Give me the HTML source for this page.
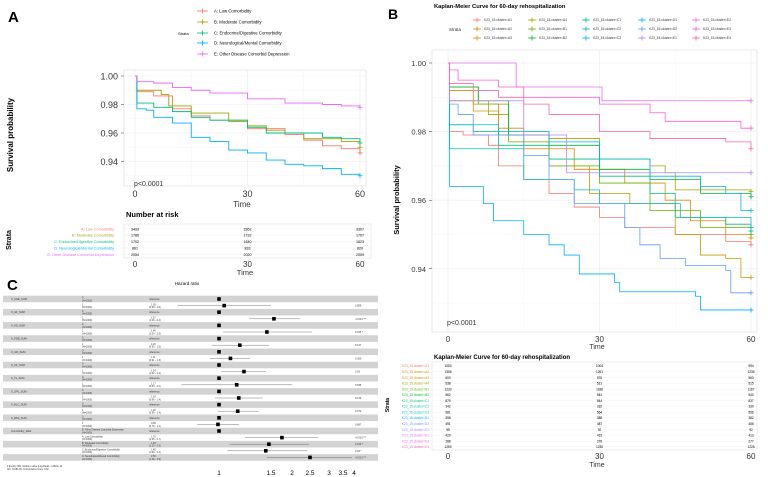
<!DOCTYPE html>
<html><head><meta charset="utf-8"><style>
body{margin:0;background:#fff;font-family:"Liberation Sans",sans-serif}
svg{display:block}
text{font-family:"Liberation Sans",sans-serif}
</style></head><body>
<svg id="fig" width="768" height="477" viewBox="0 0 768 477" xmlns="http://www.w3.org/2000/svg">
<rect width="768" height="477" fill="#fff"/>
<g id="pA"></g>
<g id="pB"></g>
<g id="pC"></g>
</svg>
<script>
// ===== Panel A data =====
const aNames=["A: Low Comorbidity","B: Moderate Comorbidity","C: Endocrine/Digestive Comorbidity","D: Neurological/Mental Comorbidity","E: Other Disease Comorbid Depression"];
const aColors=["#F8766D","#A3A500","#00BF7D","#00B0F6","#E76BF3"];
const aTimes=[
[0,0.5,5,10,15,20,30,40,45,50,55,60],
[0,0.5,7,9,15,25,30,35,40,45,55,60],
[0,0.5,5,10,15,20,30,35,45,50,55,60],
[0,0.5,3,5,10,15,20,25,30,35,40,45,50,55,60],
[0,0.5,5,10,15,20,30,40,50,55,60]];
const aSurv=[
[1,0.989,0.986,0.977,0.972,0.969,0.963,0.959,0.955,0.951,0.949,0.946],
[1,0.990,0.987,0.979,0.974,0.968,0.965,0.962,0.960,0.956,0.954,0.950],
[1,0.981,0.978,0.975,0.971,0.969,0.964,0.960,0.960,0.957,0.956,0.953],
[1,0.977,0.976,0.971,0.967,0.957,0.954,0.948,0.946,0.941,0.938,0.937,0.935,0.931,0.930],
[1,0.996,0.995,0.992,0.990,0.988,0.984,0.981,0.980,0.979,0.978]];
const aYTicks=[1.00,0.98,0.96,0.94];
const aXTicks=[0,30,60];
const aRisk=[[3493,3362,3307],[1786,1732,1707],[1702,1640,1623],[861,833,820],[2054,2020,2009]];

// ===== Panel B data =====
const bNames=["K23_15.cluster=A1","K23_15.cluster=A2","K23_15.cluster=A3","K23_15.cluster=A4","K23_15.cluster=B1","K23_15.cluster=B2","K23_15.cluster=C1","K23_15.cluster=C2","K23_15.cluster=C3","K23_15.cluster=D1","K23_15.cluster=D2","K23_15.cluster=E1","K23_15.cluster=E2","K23_15.cluster=E3","K23_15.cluster=E4"];
const bColors=["#F8766D","#E58700","#C99800","#A3A500","#6BB100","#00BA38","#00BF7D","#00C0AF","#00BCD8","#00B0F6","#619CFF","#B983FF","#E76BF3","#FD61D1","#FF67A4"];
const bTimes=[
[0,0.3,3,8,10,15,20,25,30,35,45,55,60],
[0,0.3,5,10,15,25,35,43,48,55,60],
[0,0.3,5,10,20,28,36,45,50,55,58,60],
[0,0.3,8,12,20,30,40,43,45,60],
[0,0.3,6,12,20,30,40,50,60],
[0,0.3,6,12,20,30,40,50,60],
[0,0.3,5,10,20,30,40,45,55,60],
[0,0.3,10,15,25,30,45,46,60],
[0,0.3,10,20,30,40,50,55,58,60],
[0,0.3,7,9,15,20,23,26,33,34,49,50,60],
[0,0.3,2,5,15,20,25,35,38,42,47,55,56,60],
[0,0.3,15,23,23.5,60],
[0,13,13.5,30,30.5,60],
[0,0.3,2,10,15,30,40,43,58,60],
[0,0.3,5,10,15,20,30,40,55,60]];
const bSurv=[
[1,0.980,0.979,0.976,0.970,0.966,0.962,0.958,0.955,0.952,0.950,0.948,0.947],
[1,0.992,0.988,0.981,0.975,0.969,0.965,0.960,0.954,0.950,0.949],
[1,0.989,0.986,0.979,0.970,0.962,0.959,0.950,0.944,0.943,0.9375,0.9375],
[1,0.989,0.985,0.980,0.978,0.972,0.970,0.968,0.963,0.9625],
[1,0.993,0.988,0.977,0.970,0.965,0.957,0.952,0.950],
[1,0.993,0.989,0.979,0.976,0.969,0.966,0.962,0.961],
[1,0.982,0.980,0.976,0.972,0.967,0.962,0.955,0.953,0.952],
[1,0.975,0.975,0.966,0.963,0.959,0.959,0.955,0.951],
[1,0.982,0.980,0.977,0.972,0.967,0.964,0.962,0.957,0.957],
[1,0.964,0.959,0.954,0.950,0.947,0.944,0.9385,0.936,0.9333,0.932,0.928,0.928],
[1,0.988,0.985,0.979,0.973,0.966,0.959,0.952,0.947,0.943,0.941,0.9395,0.933,0.933],
[1,0.989,0.979,0.979,0.968,0.968],
[1,1.0,0.993,0.993,0.989,0.989],
[1,0.998,0.995,0.993,0.990,0.988,0.9855,0.983,0.981,0.981],
[1,0.994,0.992,0.990,0.988,0.985,0.980,0.978,0.977,0.975]];
const bYTicks=[1.00,0.98,0.96,0.94];
const bXTicks=[0,30,60];
const bRisk=[[1053,1004,994],[1306,1261,1235],[600,576,563],[538,521,515],[1233,1188,1167],[562,544,540],[879,844,837],[342,332,330],[581,564,556],[398,388,382],[491,487,458],[95,92,92],[429,415,413],[288,278,277],[1259,1235,1228]];

// ===== Panel C data =====
const cVars=["X_AGE_SUM","X_HF_SUM","X_AS_SUM","X_PNE_SUM","X_AKI_SUM","X_CF_SUM","X_TL_SUM","X_GPL_SUM","X_HLC_SUM","X_RSF_SUM"];
const cHR=[1.05,1.57,1.46,1.20,1.11,1.24,1.17,1.19,1.18,0.99];
const cLo=[0.60,1.29,1.04,0.93,0.91,1.02,0.64,0.96,0.99,0.79];
const cHi=[1.50,2.22,2.55,1.48,1.30,1.45,2.00,1.42,1.38,1.19];
const cP=["0.855","<0.001 ***","0.035 *","0.137","0.300","0.03","0.535","0.136","0.072","0.897"];
const comNames=["A: Low Comorbidity","B: Moderate Comorbidity","C: Endocrine/Digestive Comorbidity","D: Neurological/Mental Comorbidity"];
const comHR=[1.76,1.48,1.45,2.50];
const comLo=[1.25,1.10,1.08,1.46];
const comHi=[2.71,2.47,2.42,3.91];
const comP=["<0.001 ***","0.010 *","0.02 *","<0.001 ***"];
const cTicks=[1,1.5,2,2.5,3,3.5,4];

const NS="http://www.w3.org/2000/svg";
function mk(tag,attrs,parent){const e=document.createElementNS(NS,tag);for(const k in attrs)e.setAttribute(k,attrs[k]);if(parent)parent.appendChild(e);return e;}
function txt(s,attrs,parent){const e=mk("text",attrs,parent);e.textContent=s;return e;}
function stepPath(ts,ss,sx,sy){let d="M"+sx(ts[0])+","+sy(ss[0]);for(let i=1;i<ts.length;i++){d+="H"+sx(ts[i])+"V"+sy(ss[i]);}return d;}
function cross(g,x,y,c){mk("path",{d:`M${x-2.5},${y}H${x+2.5}M${x},${y-2.5}V${y+2.5}`,stroke:c,"stroke-width":0.8},g);}

// ===== Panel A =====
(function(){
const g=document.getElementById("pA");
let e=txt("A",{x:8,y:22,"font-size":15,"font-weight":"bold"},g);

e=txt("Strata",{x:178,y:35,"font-size":4});
g.appendChild(e);
const ly=[11,22,33,43,54];
aNames.forEach((n,i)=>{
 const lg=mk("g",{},g);
 
 
 mk("line",{x1:197,x2:208,y1:ly[i],y2:ly[i],stroke:aColors[i],"stroke-width":0.8},lg);
 cross(lg,202.5,ly[i],aColors[i]);
 txt(n,{x:214,y:ly[i]+1.5,"font-size":4.3},lg);
});
const sx=t=>135+t*(225/60), sy=s=>76+(1-s)/0.02*28.5;
const panel=mk("rect",{x:124,y:70,width:242,height:116,fill:"#fff",stroke:"#dadada","stroke-width":0.6},g);

[0.99,0.97,0.95,0.93].forEach(v=>mk("line",{x1:124,x2:366,y1:sy(v),y2:sy(v),stroke:"#f3f3f3","stroke-width":0.4},g));
[15,45].forEach(v=>mk("line",{x1:sx(v),x2:sx(v),y1:70,y2:186,stroke:"#f3f3f3","stroke-width":0.4},g));
aYTicks.forEach(v=>{mk("line",{x1:124,x2:366,y1:sy(v),y2:sy(v),stroke:"#ebebeb","stroke-width":0.6},g);
 const t=txt(v.toFixed(2),{x:118,y:sy(v)+3.5,"font-size":9,"text-anchor":"end",fill:"#333"},g);
 
 mk("line",{x1:121,x2:124,y1:sy(v),y2:sy(v),stroke:"#333","stroke-width":0.5},g);});
aXTicks.forEach(v=>{mk("line",{x1:sx(v),x2:sx(v),y1:70,y2:186,stroke:"#ebebeb","stroke-width":0.6},g);
 const t=txt(String(v),{x:sx(v),y:197,"font-size":9,"text-anchor":"middle",fill:"#333"},g);
 });
aNames.forEach((n,i)=>{const p=mk("path",{d:stepPath(aTimes[i],aSurv[i],sx,sy),fill:"none",stroke:aColors[i],"stroke-width":0.9},g);
 
 const L=aTimes[i].length-1;cross(g,sx(aTimes[i][L]),sy(aSurv[i][L]),aColors[i]);});
e=txt("p<0.0001",{x:134,y:186,"font-size":7,fill:"#333"},g);
e=txt("Time",{x:242,y:207,"font-size":8,"text-anchor":"middle",fill:"#333"},g);
e=txt("Survival probability",{x:0,y:0,"font-size":8,"font-weight":"bold","text-anchor":"middle",transform:"translate(13,135) rotate(-90)"},g);
e=txt("Number at risk",{x:126,y:217,"font-size":7.5,"font-weight":"bold"},g);
mk("rect",{x:124,y:224,width:247,height:34,fill:"#fff",stroke:"#dadada","stroke-width":0.5},g);
[135,247.5,360].forEach(x=>mk("line",{x1:x,x2:x,y1:224,y2:258,stroke:"#ebebeb","stroke-width":0.5},g));
const ry=[229,235,241.5,248,254.5];
aRisk.forEach((r,i)=>{
 mk("line",{x1:124,x2:371,y1:ry[i],y2:ry[i],stroke:"#ebebeb","stroke-width":0.4},g);
 const l=txt(aNames[i],{x:114,y:ry[i]+1.3,"font-size":3.8,"text-anchor":"end",fill:aColors[i]},g);
 
 r.forEach((v,j)=>{const t=txt(String(v),{x:sx(aXTicks[j]),y:ry[i]+1.3,"font-size":3.6,"text-anchor":"middle"},g);
 });
});
aXTicks.forEach(v=>txt(String(v),{x:sx(v),y:267,"font-size":8,"text-anchor":"middle",fill:"#333"},g));
txt("Time",{x:245,y:275,"font-size":7.5,"text-anchor":"middle",fill:"#333"},g);
e=txt("Strata",{x:0,y:0,"font-size":7,"font-weight":"bold","text-anchor":"middle",transform:"translate(11,240) rotate(-90)"},g);
})();

// ===== Panel B =====
(function(){
const g=document.getElementById("pB");
let e=txt("B",{x:388,y:19,"font-size":14,"font-weight":"bold"},g);
e=txt("Kaplan-Meier Curve for 60-day rehospitalization",{x:434,y:8,"font-size":5.8,"font-weight":"bold"},g);
txt("Strata",{x:449,y:31,"font-size":4.5,fill:"#333"},g);
const colX=[477,532,586,642,696], rowY=[20,29,38];
bNames.forEach((n,i)=>{const c=Math.floor(i/3),r=i%3;
 const lg=mk("g",{},g);
 
 
 mk("line",{x1:colX[c]-4,x2:colX[c]+4,y1:rowY[r],y2:rowY[r],stroke:bColors[i],"stroke-width":0.7},lg);
 cross(lg,colX[c],rowY[r],bColors[i]);
 txt(n,{x:colX[c]+7,y:rowY[r]+1.2,"font-size":3.3,fill:"#333"},lg);});
const sx=t=>448+t*(303/60), sy=s=>63+(1-s)/0.02*68.6;
const panel=mk("rect",{x:432,y:50,width:325,height:282,fill:"#fff",stroke:"#dadada","stroke-width":0.6},g);

[0.99,0.97,0.95,0.93].forEach(v=>mk("line",{x1:432,x2:757,y1:sy(v),y2:sy(v),stroke:"#f3f3f3","stroke-width":0.4},g));
[15,45].forEach(v=>mk("line",{x1:sx(v),x2:sx(v),y1:50,y2:332,stroke:"#f3f3f3","stroke-width":0.4},g));
bYTicks.forEach(v=>{mk("line",{x1:432,x2:757,y1:sy(v),y2:sy(v),stroke:"#ebebeb","stroke-width":0.6},g);
 const t=txt(v.toFixed(2),{x:426,y:sy(v)+3,"font-size":7.5,"text-anchor":"end",fill:"#333"},g);
 
 mk("line",{x1:429,x2:432,y1:sy(v),y2:sy(v),stroke:"#333","stroke-width":0.5},g);});
bXTicks.forEach(v=>{mk("line",{x1:sx(v),x2:sx(v),y1:50,y2:332,stroke:"#ebebeb","stroke-width":0.6},g);
 const t=txt(String(v),{x:sx(v),y:342,"font-size":8,"text-anchor":"middle",fill:"#333"},g);
 });
bNames.forEach((n,i)=>{const p=mk("path",{d:stepPath(bTimes[i],bSurv[i],sx,sy),fill:"none",stroke:bColors[i],"stroke-width":0.8},g);
 
 const L=bTimes[i].length-1;cross(g,sx(bTimes[i][L]),sy(bSurv[i][L]),bColors[i]);});
e=txt("p<0.0001",{x:447,y:325,"font-size":7,fill:"#333"},g);
e=txt("Time",{x:597,y:349,"font-size":7,"text-anchor":"middle",fill:"#333"},g);
e=txt("Survival probability",{x:0,y:0,"font-size":7.5,"font-weight":"bold","text-anchor":"middle",transform:"translate(399,200) rotate(-90)"},g);
e=txt("Kaplan-Meier Curve for 60-day rehospitalization",{x:434,y:359,"font-size":6,"font-weight":"bold"},g);
mk("rect",{x:432,y:362,width:325,height:88,fill:"#fff",stroke:"#dadada","stroke-width":0.5},g);
bXTicks.forEach(v=>mk("line",{x1:sx(v),x2:sx(v),y1:362,y2:450,stroke:"#ebebeb","stroke-width":0.5},g));
bRisk.forEach((r,i)=>{const y=366+i*5.78;
 mk("line",{x1:432,x2:757,y1:y,y2:y,stroke:"#ebebeb","stroke-width":0.3},g);
 const l=txt(bNames[i],{x:429,y:y+1.2,"font-size":3.2,"text-anchor":"end",fill:bColors[i]},g);
 
 r.forEach((v,j)=>{const t=txt(String(v),{x:sx(bXTicks[j]),y:y+1.2,"font-size":3.2,"text-anchor":"middle"},g);
 });});
bXTicks.forEach(v=>txt(String(v),{x:sx(v),y:459,"font-size":8,"text-anchor":"middle",fill:"#333"},g));
txt("Time",{x:597,y:467,"font-size":7,"text-anchor":"middle",fill:"#333"},g);
e=txt("Strata",{x:0,y:0,"font-size":5,"font-weight":"bold","text-anchor":"middle",transform:"translate(389,405) rotate(-90)"},g);
})();

// ===== Panel C =====
(function(){
const g=document.getElementById("pC");
let e=txt("C",{x:7,y:290,"font-size":15,"font-weight":"bold"},g);
e=txt("Hazard ratio",{x:187,y:285,"font-size":4.5,"text-anchor":"middle"},g);
const tp=[219,271,292,310,329,343,354];
function hx(h){if(h<=1)return 219-(1-h)*104;for(let i=1;i<cTicks.length;i++){if(h<=cTicks[i]){const f=(h-cTicks[i-1])/(cTicks[i]-cTicks[i-1]);return tp[i-1]+f*(tp[i]-tp[i-1]);}}return 354+(h-4)*22;}
const y0=299,dy=6.6;
const rows=[];
cVars.forEach((v,i)=>{rows.push({name:v,grp:"0",ref:true});rows.push({grp:"1",hr:cHR[i],lo:cLo[i],hi:cHi[i],p:cP[i]});});
rows.push({name:"comorbidity_label",grp:"E: Other Disease Comorbid Depression",ref:true});
comNames.forEach((n,i)=>rows.push({grp:n,hr:comHR[i],lo:comLo[i],hi:comHi[i],p:comP[i]}));
rows.forEach((r,i)=>{const y=y0+i*dy;
 if(i%2===0){const b=mk("rect",{x:3,y:y-dy/2,width:375,height:dy,fill:"#d3d3d3"},g);}
});
rows.forEach((r,i)=>{const y=y0+i*dy;
 if(r.name)txt(r.name,{x:11,y:y+1,"font-size":2.6,fill:"#333"},g);
 txt(r.grp,{x:82,y:y-0.3,"font-size":2.4,fill:"#333"},g);
 txt("(N=1000)",{x:82,y:y+2.4,"font-size":2.4,fill:"#333"},g);
 if(r.ref){txt("reference",{x:149,y:y+1,"font-size":2.5,fill:"#333"},g);
  const pt=mk("rect",{x:hx(1)-1.8,y:y-1.8,width:3.6,height:3.6,fill:"#000"},g);
  }
 else{
  txt(r.hr.toFixed(2),{x:151,y:y-0.3,"font-size":2.4,fill:"#333"},g);
  txt("("+r.lo.toFixed(2)+" - "+r.hi.toFixed(1)+")",{x:149,y:y+2.4,"font-size":2.4,fill:"#333"},g);
  const ci=mk("line",{x1:hx(r.lo),x2:hx(r.hi),y1:y,y2:y,stroke:"#555","stroke-width":0.4},g);
  
  const pt=mk("rect",{x:hx(r.hr)-1.8,y:y-1.8,width:3.6,height:3.6,fill:"#000"},g);
  
  txt(r.p,{x:355,y:y+1,"font-size":2.5,fill:"#333"},g);}
});
cTicks.forEach(v=>{const t=txt(String(v),{x:hx(v),y:475,"font-size":6.5,"text-anchor":"middle"},g);
 });
txt("# Events: 882; Global p-value (Log-Rank): 1.2819e-10",{x:7,y:467,"font-size":2.3,fill:"#333"},g);
txt("AIC: 16181.06; Concordance Index: 0.62",{x:7,y:470,"font-size":2.3,fill:"#333"},g);
})();
</script>
</body></html>
